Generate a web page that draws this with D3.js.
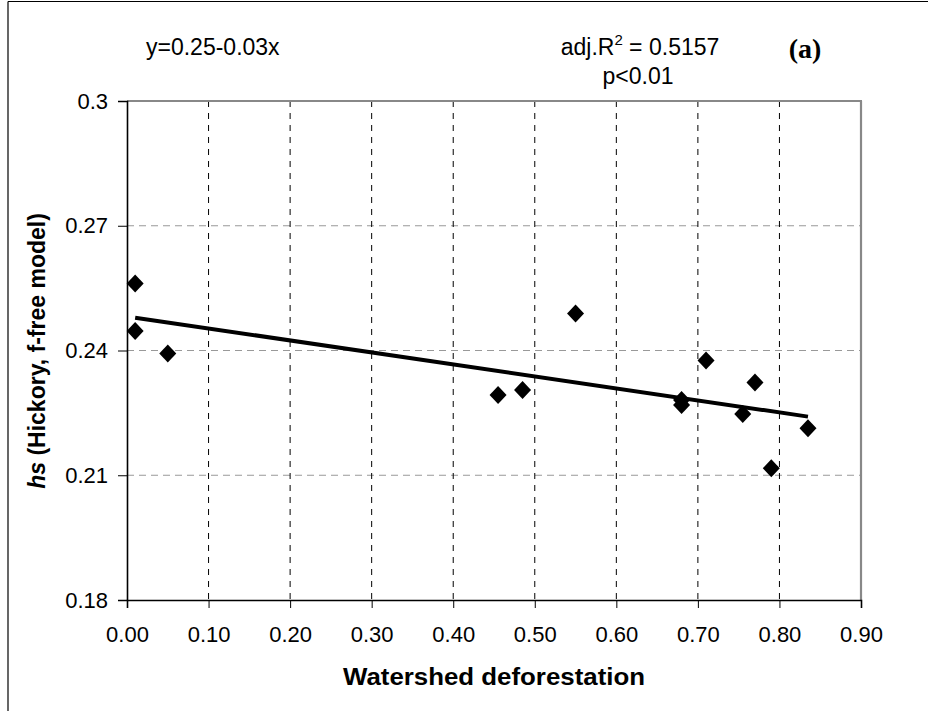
<!DOCTYPE html>
<html>
<head>
<meta charset="utf-8">
<script src="https://cdn.jsdelivr.net/npm/d3@7"></script>
<style>
  html, body { margin: 0; padding: 0; background: #fff; }
  svg { display: block; }
  text { font-family: "Liberation Sans", Arial, sans-serif; fill: #000; }
</style>
</head>
<body>
<svg id="chart" width="928" height="711"></svg>
<script>
// ---- data ----
const deforestation = [0.01, 0.01, 0.05, 0.455, 0.485, 0.55, 0.68, 0.68, 0.71, 0.755, 0.77, 0.79, 0.835];
const hsValues      = [0.2561, 0.2447, 0.2393, 0.2293, 0.2305, 0.2489, 0.2281, 0.2269, 0.2376, 0.2247, 0.2323, 0.2117, 0.2213];
const trendX = [0.01, 0.835];
const trendY = [0.2479, 0.2241];
const xTicks = [0, 0.1, 0.2, 0.3, 0.4, 0.5, 0.6, 0.7, 0.8, 0.9];
const yTicks = [0.18, 0.21, 0.24, 0.27, 0.3];
const equationText = "y=0.25-0.03x";
const r2Label = "adj.R";
const r2Value = " = 0.5157";
const pText = "p<0.01";
const panelLabel = "(a)";
const xTitle = "Watershed deforestation";
const yTitleItalic = "hs";
const yTitleRest = " (Hickory, f-free model)";

// ---- layout ----
const svg = d3.select("#chart");
const pLeft = 127, pRight = 861, pTop = 101, pBottom = 600;

const x = d3.scaleLinear().domain([0, 0.9]).range([pLeft, pRight]);
const y = d3.scaleLinear().domain([0.18, 0.3]).range([pBottom, pTop]);

// outer frame (left and top edges only visible)
svg.append("line").attr("x1", 8).attr("x2", 8).attr("y1", 1.5).attr("y2", 711)
  .attr("stroke", "#000").attr("stroke-width", 1.2);
svg.append("line").attr("x1", 8).attr("x2", 928).attr("y1", 1.5).attr("y2", 1.5)
  .attr("stroke", "#000").attr("stroke-width", 1.2);

// horizontal gridlines (gray dashed)
svg.append("g").selectAll("line")
  .data(yTicks.filter(d => d > 0.18 && d < 0.3))
  .join("line")
  .attr("x1", pLeft).attr("x2", pRight)
  .attr("y1", d => y(d)).attr("y2", d => y(d))
  .attr("stroke", "#999").attr("stroke-width", 1)
  .attr("stroke-dasharray", "7,5");

// vertical gridlines (black dashed)
svg.append("g").selectAll("line")
  .data(xTicks.filter(d => d > 0 && d < 0.9))
  .join("line")
  .attr("x1", d => x(d)).attr("x2", d => x(d))
  .attr("y1", pTop).attr("y2", pBottom)
  .attr("stroke", "#000").attr("stroke-width", 1)
  .attr("stroke-dasharray", "6,6");

// top and right plot border (gray)
svg.append("line").attr("x1", pLeft).attr("x2", pRight + 1).attr("y1", pTop).attr("y2", pTop)
  .attr("stroke", "#888").attr("stroke-width", 2.2);
svg.append("line").attr("x1", pRight).attr("x2", pRight).attr("y1", pTop).attr("y2", pBottom)
  .attr("stroke", "#888").attr("stroke-width", 2.2);

// axes
const yAxis = d3.axisLeft(y).tickValues(yTicks).tickSize(9).tickPadding(10)
  .tickFormat(d => d === 0.3 ? "0.3" : d3.format(".2f")(d));
const gy = svg.append("g").attr("transform", `translate(${pLeft},0)`).call(yAxis);
gy.select(".domain").attr("stroke", "#000").attr("stroke-width", 1.6);
gy.selectAll(".tick line").attr("stroke", "#000").attr("stroke-width", 1);
gy.selectAll(".tick text")
  .attr("font-size", 22).attr("font-family", "Liberation Sans, Arial, sans-serif");

const xAxis = d3.axisBottom(x).tickValues(xTicks).tickSize(8).tickPadding(18)
  .tickFormat(d3.format(".2f"));
const gx = svg.append("g").attr("transform", `translate(0,${pBottom})`).call(xAxis);
gx.select(".domain").attr("stroke", "#000").attr("stroke-width", 1.6);
gx.selectAll(".tick line").attr("stroke", "#000").attr("stroke-width", 1);
gx.selectAll(".tick text")
  .attr("font-size", 22).attr("font-family", "Liberation Sans, Arial, sans-serif");

// trend line
svg.append("path")
  .datum(trendX.map((d, i) => [d, trendY[i]]))
  .attr("d", d3.line().x(d => x(d[0])).y(d => y(d[1])))
  .attr("stroke", "#000").attr("stroke-width", 4).attr("fill", "none");

// diamond markers
const dW = 8.5, dH = 9;
svg.append("g").selectAll("path")
  .data(deforestation.map((d, i) => [d, hsValues[i]]))
  .join("path")
  .attr("d", d => {
    const cx = x(d[0]), cy = y(d[1]);
    return `M${cx},${cy - dH}L${cx + dW},${cy}L${cx},${cy + dH}L${cx - dW},${cy}Z`;
  })
  .attr("fill", "#000");

// annotations
svg.append("text").attr("x", 146).attr("y", 55).attr("font-size", 23).text(equationText);

const r2 = svg.append("text").attr("x", 640).attr("y", 55).attr("font-size", 23).attr("text-anchor", "middle");
r2.append("tspan").text(r2Label);
r2.append("tspan").attr("font-size", 15).attr("dy", -10).text("2");
r2.append("tspan").attr("dy", 10).text(r2Value);

svg.append("text").attr("x", 638).attr("y", 84).attr("font-size", 23).attr("text-anchor", "middle").text(pText);

svg.append("text").attr("x", 805).attr("y", 58).attr("font-size", 28).attr("font-weight", "bold")
  .attr("text-anchor", "middle")
  .style("font-family", "'Liberation Serif', 'Times New Roman', serif").text(panelLabel);

// axis titles
svg.append("text").attr("x", 494).attr("y", 685)
  .attr("text-anchor", "middle").attr("font-size", 23).attr("font-weight", "bold")
  .attr("textLength", 302).attr("lengthAdjust", "spacingAndGlyphs").text(xTitle);

const yt = svg.append("text")
  .attr("transform", `translate(45,351) rotate(-90)`)
  .attr("text-anchor", "middle").attr("font-size", 23).attr("font-weight", "bold");
yt.append("tspan").attr("font-style", "italic").text(yTitleItalic);
yt.append("tspan").text(yTitleRest);
</script>
</body>
</html>
